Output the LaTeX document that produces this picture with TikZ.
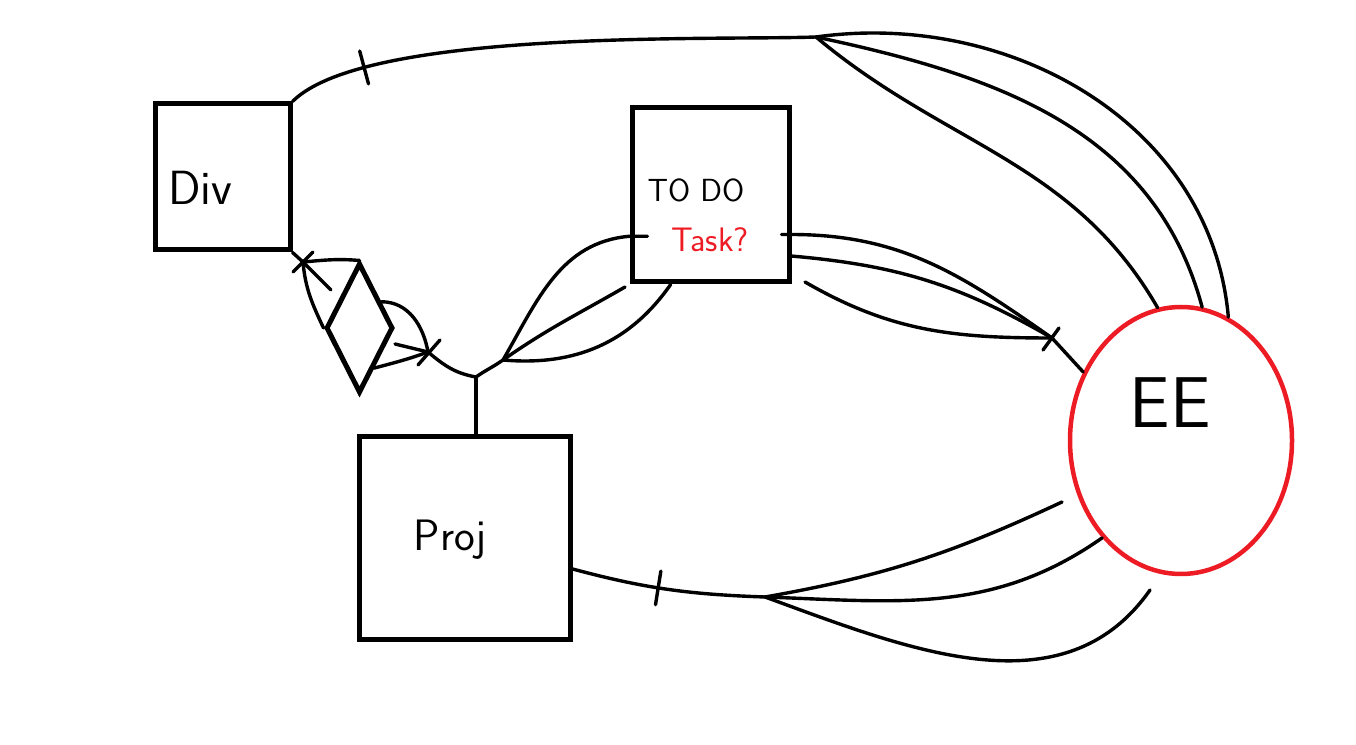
\documentclass[tikz,border=0pt]{standalone}
\usetikzlibrary{shapes.geometric, decorations.markings, calc}
\definecolor{paintred}{RGB}{237,28,36}
\begin{document}
\begin{tikzpicture}[x=1pt, y=1pt,
  entity/.style={draw=black, line width=5pt, inner sep=0pt},
  link/.style={line width=3.4pt, line cap=round, line join=round},
  onebar/.style={postaction={decorate, decoration={markings,
    mark=at position #1 with {\draw[link] (0,-17) -- (0,17);}}}},
  hand/.style={font=\sffamily\fontsize{#1}{#1}\selectfont, inner sep=0pt}]
\useasboundingbox (0,0) rectangle (1356,744);

% entities
\node[entity, minimum width=135pt, minimum height=146pt] (div) at (222.5,567) {};
\node[entity, minimum width=157pt, minimum height=174pt] (todo) at (710.5,549) {};
\node[entity, minimum width=211pt, minimum height=202pt] (proj) at (464.5,206) {};
\node[draw=paintred, line width=4.5pt, ellipse, inner sep=0pt,
      minimum width=222pt, minimum height=267pt] (ee) at (1181,303.5) {};
\node[entity, diamond, minimum width=67pt, minimum height=130pt] (rel) at (359.5,416) {};

% labels
\node[hand=48] (divtxt) at (200,556) {Div};
\node[hand=32] (todotxt) at (696,554) {TO DO};
\node[hand=34, text=paintred] (tasktxt) at (710,504) {Task?};
\node[hand=44] (projtxt) at (450,204) {Proj};
\node[hand=72] (eetxt) at (1170,341) {EE};

% junctions
\coordinate (jdiv) at (303,482);
\coordinate (jdivfoot) at (331,454);
\coordinate (jrel) at (428,392);
\coordinate (jrelfoot) at (395,400);
\coordinate (jproj) at (476,367);
\coordinate (jtodo) at (503,384);
\coordinate (todofoot) at (625,457);
\coordinate (todolow) at (805,462);
\coordinate (jee) at (1052,406);
\coordinate (jtop) at (816,707);
\coordinate (jpr) at (765,147);
\coordinate (prup) at (1062,242);
\coordinate (prlow) at (1150,154);

% Div -- EE over the top
\draw[link, onebar=0.15] (div.north east) to[out=45,in=182,looseness=0.5] (jtop);
\draw[link] (jtop) to[out=8,in=95] (ee.69);
\draw[link] (jtop) to[out=-12,in=105] (ee.81);
\draw[link] (jtop) to[out=-40,in=120] (ee.100);

% Div -- relationship
\draw[link] (div.south east) -- (jdiv);
\draw[link] (jdiv) to[out=5,in=175] (rel.north);
\draw[link] (jdiv) to[out=-85,in=115] (rel.west);
\draw[link] (jdiv) -- (jdivfoot);
\draw[link] ($(jdiv)+(-10,-10)$) -- ($(jdiv)+(10,10)$);

% relationship -- Proj
\draw[link] (rel.50) to[out=0,in=100] (jrel);
\draw[link] (rel.-70) to[out=15,in=200] (jrel);
\draw[link] (jrelfoot) -- (jrel);
\draw[link] ($(jrel)+(-10,-13)$) -- ($(jrel)+(12,12)$);
\draw[link] (jrel) to[out=-40,in=170] (jproj);
\draw[link] (jproj) -- (jproj |- proj.north);

% Proj -- TODO
\draw[link] (jproj) to[out=35,in=215] (jtodo);
\draw[link] (jtodo) to[out=60,in=185] (todo.207) -- ++(18,0);
\draw[link] (jtodo) to[out=35,in=210] (todofoot);
\draw[link] (jtodo) to[out=-5,in=235] (todo.246);

% TODO -- EE
\draw[link] ([xshift=-10pt]todo.-26) -- (todo.-26) to[out=0,in=145] (jee);
\draw[link] (todo.-37) to[out=-5,in=150] (jee);
\draw[link] (todolow) to[out=-30,in=180] (jee);
\draw[link] ($(jee)+(-9,-12)$) -- ($(jee)+(7,10)$);
\draw[link] (jee) -- (ee.145);

% Proj -- EE
\draw[link, onebar=0.45] (proj.-16) to[out=-15,in=178] (jpr);
\draw[link] (jpr) to[out=-2,in=215] (ee.231);
\draw[link] (jpr) to[out=10,in=205] (prup);
\draw[link] (jpr) to[out=-20,in=235] (prlow);
\end{tikzpicture}
\end{document}
